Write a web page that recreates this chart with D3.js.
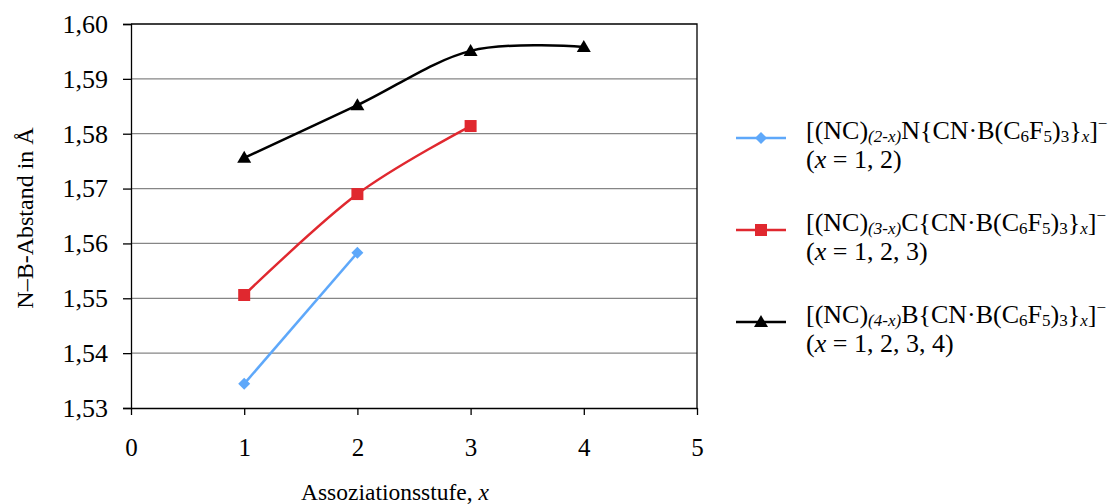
<!DOCTYPE html>
<html><head><meta charset="utf-8">
<script src="https://cdn.jsdelivr.net/npm/d3@7"></script>
<style>
html,body{margin:0;padding:0;background:#fff;}
svg text{font-family:"Liberation Serif","Times New Roman",serif;fill:#000;}
</style></head>
<body>
<svg id="chart" width="1112" height="504"></svg>
<script>
const xTicks = [0,1,2,3,4,5];
const yTicks = [1.53,1.54,1.55,1.56,1.57,1.58,1.59,1.60];
const xN = [1,2];
const yN = [1.5344,1.5583];
const xC = [1,2,3];
const yC = [1.5506,1.5690,1.5814];
const xB = [1,2,3,4];
const yB = [1.5756,1.5852,1.5951,1.5958];
const seriesColors = ["#5EA8FA","#E0282F","#000000"];
const seriesShapes = ["diamond","square","triangle"];
const legendCenters = ["N","C","B"];
const legendSub = ["(2-x)","(3-x)","(4-x)"];
const legendSecond = ["1, 2","1, 2, 3","1, 2, 3, 4"];

const SERIF = '"Liberation Serif","Times New Roman",serif';
const svg = d3.select("#chart");
const L=131, R=697, T=24, B=408;
const x = d3.scaleLinear().domain([0,5]).range([L,R]);
const y = d3.scaleLinear().domain([1.53,1.60]).range([B,T]);
const fmt = v => v.toFixed(2).replace(".", ",");

// gridlines
svg.append("g").selectAll("line").data(yTicks.slice(1,-1)).join("line")
  .attr("x1",L).attr("x2",R).attr("y1",d=>y(d)).attr("y2",d=>y(d))
  .attr("stroke","#868686").attr("stroke-width",1.3);
// border top/right
svg.append("path").attr("d",`M${L},${T}H${R}V${B}`).attr("fill","none").attr("stroke","#000").attr("stroke-width",1.3);

// y axis
const ya = svg.append("g").attr("transform",`translate(${L},0)`)
  .call(d3.axisLeft(y).tickValues(yTicks).tickFormat(fmt).tickSize(8).tickPadding(15));
ya.attr("font-family",null).attr("font-size",null);
ya.select(".domain").attr("stroke","#000").attr("stroke-width",1.3);
ya.selectAll(".tick line").attr("stroke","#000").attr("stroke-width",1.3);
ya.selectAll("text").style("font-size","26px").style("font-family",SERIF);

// x axis
const xa = svg.append("g").attr("transform",`translate(0,${B})`)
  .call(d3.axisBottom(x).tickValues(xTicks).tickFormat(d3.format("d")).tickSize(7).tickSizeOuter(0).tickPadding(23));
xa.attr("font-family",null).attr("font-size",null);
xa.select(".domain").attr("stroke","#000").attr("stroke-width",1.3);
xa.selectAll(".tick line").attr("stroke","#000").attr("stroke-width",1.3);
xa.selectAll("text").style("font-size","25px").style("font-family",SERIF);

// axis titles
svg.append("text").attr("transform","translate(33,218) rotate(-90)").attr("text-anchor","middle")
  .style("font-size","24px").text("N–B-Abstand in Å");
const xt = svg.append("text").attr("x",395).attr("y",500).attr("text-anchor","middle").style("font-size","23.5px");
xt.append("tspan").text("Assoziationsstufe, ");
xt.append("tspan").style("font-style","italic").text("x");

// markers
function marker(g, shape, cx, cy, color){
  if(shape==="diamond"){
    g.append("path").attr("d",`M${cx},${cy-6}L${cx+6},${cy}L${cx},${cy+6}L${cx-6},${cy}Z`).attr("fill",color);
  } else if(shape==="square"){
    g.append("rect").attr("x",cx-6).attr("y",cy-6).attr("width",12).attr("height",12).attr("fill",color);
  } else {
    g.append("path").attr("d",`M${cx},${cy-7}L${cx+7},${cy+5}L${cx-7},${cy+5}Z`).attr("fill",color);
  }
}

const series = [[xN,yN],[xC,yC],[xB,yB]];
const line = d3.line().x(d=>x(d[0])).y(d=>y(d[1])).curve(d3.curveCatmullRom.alpha(0));
series.forEach((s,i)=>{
  const pts = s[0].map((xv,j)=>[xv,s[1][j]]);
  svg.append("path").attr("d",line(pts)).attr("fill","none").attr("stroke",seriesColors[i]).attr("stroke-width",2.5);
  const g = svg.append("g");
  pts.forEach(p=>marker(g, seriesShapes[i], x(p[0]), y(p[1]), seriesColors[i]));
});

// legend
const legY = [138,230,322];
const SUB = "17px";
legY.forEach((ly,i)=>{
  svg.append("line").attr("x1",736).attr("x2",786).attr("y1",ly).attr("y2",ly).attr("stroke",seriesColors[i]).attr("stroke-width",2.5);
  marker(svg, seriesShapes[i], 761, ly, seriesColors[i]);
  const t = svg.append("text").attr("x",806).attr("y",ly+1).style("font-size","26px");
  t.append("tspan").text("[(NC)");
  t.append("tspan").style("font-size",SUB).style("font-style","italic").attr("dy",3).text(legendSub[i]);
  t.append("tspan").attr("dy",-3).text(legendCenters[i]+"{CN·B(C");
  t.append("tspan").style("font-size",SUB).attr("dy",3).text("6");
  t.append("tspan").attr("dy",-3).text("F");
  t.append("tspan").style("font-size",SUB).attr("dy",3).text("5");
  t.append("tspan").attr("dy",-3).text(")");
  t.append("tspan").style("font-size",SUB).attr("dy",3).text("3");
  t.append("tspan").attr("dy",-3).text("}");
  t.append("tspan").style("font-size",SUB).style("font-style","italic").attr("dy",3).text("x");
  t.append("tspan").attr("dy",-3).text("]");
  t.append("tspan").style("font-size",SUB).attr("dy",-10).text("−");
  const t2 = svg.append("text").attr("x",806).attr("y",ly+30).style("font-size","26px");
  t2.append("tspan").text("(");
  t2.append("tspan").style("font-style","italic").text("x");
  t2.append("tspan").text(" = "+legendSecond[i]+")");
});
</script>
</body></html>
